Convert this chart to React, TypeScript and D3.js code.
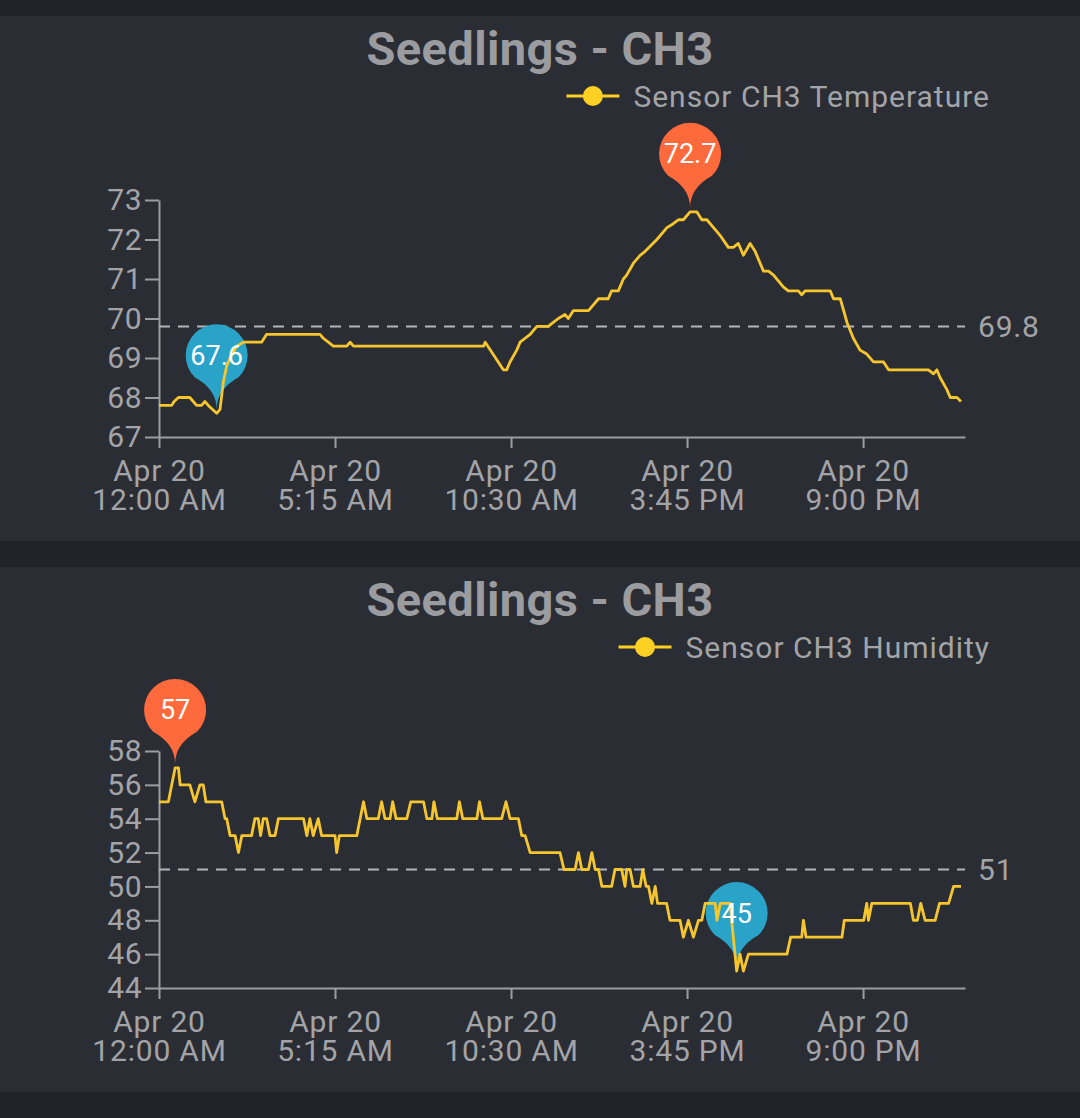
import { useRef, useEffect } from 'react';
import * as d3 from 'd3';

const W = 1080, H = 1118;
const title = 'Seedlings - CH3';

// x ticks, hours after midnight Apr 20
const tickHours = [0, 5.25, 10.5, 15.75, 21];

// temperature readings: hours after midnight / °F
const tempHours = [0, 0.38, 0.45, 0.58, 0.92, 1.12, 1.27, 1.37, 1.47, 1.72, 1.82, 1.92, 2.02, 2.12, 2.32, 2.52, 3.06, 3.21, 4.80, 4.90,
  5.05, 5.20, 5.60, 5.70, 5.80, 9.68, 9.73, 10.27, 10.37, 10.47, 10.67, 10.77, 10.92, 11.07, 11.27, 11.61, 11.76, 11.91, 12.11, 12.21,
  12.36, 12.81, 13.11, 13.40, 13.50, 13.70, 13.85, 13.95, 14.15, 14.35, 14.50, 14.85, 15.15, 15.34, 15.49, 15.64, 15.84, 16.04, 16.19, 16.34,
  16.54, 16.74, 16.98, 17.13, 17.28, 17.43, 17.63, 17.78, 18.03, 18.18, 18.33, 18.62, 18.77, 19.07, 19.17, 19.27, 20.02, 20.12, 20.32, 20.52,
  20.71, 20.91, 21.11, 21.31, 21.61, 21.76, 22.95, 23.10, 23.20, 23.30, 23.50, 23.60, 23.80, 23.92];
const tempValues = [67.8, 67.8, 67.9, 68.0, 68.0, 67.8, 67.8, 67.9, 67.8, 67.6, 67.7, 68.4, 68.8, 69.0, 69.3, 69.4, 69.4, 69.6, 69.6, 69.5,
  69.4, 69.3, 69.3, 69.4, 69.3, 69.3, 69.4, 68.7, 68.7, 68.9, 69.2, 69.4, 69.5, 69.6, 69.8, 69.8, 69.9, 70.0, 70.1, 70.0,
  70.2, 70.2, 70.5, 70.5, 70.7, 70.7, 71.0, 71.1, 71.4, 71.6, 71.7, 72.0, 72.3, 72.4, 72.5, 72.5, 72.7, 72.7, 72.5, 72.5,
  72.3, 72.1, 71.8, 71.8, 71.9, 71.6, 71.9, 71.7, 71.2, 71.2, 71.1, 70.8, 70.7, 70.7, 70.6, 70.7, 70.7, 70.5, 70.5, 69.9,
  69.5, 69.2, 69.1, 68.9, 68.9, 68.7, 68.7, 68.6, 68.7, 68.5, 68.2, 68.0, 68.0, 67.9];
const tempTicks = [67, 68, 69, 70, 71, 72, 73];
const tempAvg = 69.8;

// humidity readings: hours after midnight / %
const humHours = [0, 0.28, 0.48, 0.58, 0.63, 0.92, 1.07, 1.22, 1.32, 1.40, 1.87, 1.97, 2.02, 2.12, 2.27, 2.37, 2.47, 2.76, 2.86, 2.96,
  3.03, 3.11, 3.21, 3.31, 3.46, 3.56, 4.31, 4.41, 4.50, 4.60, 4.75, 4.85, 5.25, 5.30, 5.38, 5.90, 6.00, 6.10, 6.20, 6.54,
  6.64, 6.74, 6.89, 6.97, 7.07, 7.39, 7.51, 7.89, 7.99, 8.14, 8.20, 8.30, 8.88, 8.96, 9.06, 9.48, 9.56, 9.66, 10.22, 10.35,
  10.47, 10.72, 10.82, 10.92, 11.07, 11.96, 12.08, 12.41, 12.51, 12.61, 12.81, 12.91, 13.01, 13.11, 13.21, 13.50, 13.60, 13.80, 13.90, 13.95,
  14.05, 14.15, 14.35, 14.43, 14.53, 14.60, 14.70, 14.80, 14.87, 15.14, 15.24, 15.54, 15.64, 15.79, 15.94, 16.09, 16.19, 16.29, 16.59, 16.64,
  16.74, 17.03, 17.23, 17.33, 17.43, 17.58, 18.73, 18.84, 19.17, 19.22, 19.30, 20.37, 20.44, 21.02, 21.11, 21.16, 21.26, 22.41, 22.50, 22.62,
  22.72, 22.85, 23.15, 23.28, 23.55, 23.70, 23.92];
const humValues = [55, 55, 57, 57, 56, 56, 55, 56, 56, 55, 55, 54, 54, 53, 53, 52, 53, 53, 54, 54,
  53, 54, 54, 53, 53, 54, 54, 53, 54, 53, 54, 53, 53, 52, 53, 53, 54, 55, 54, 54,
  55, 54, 54, 55, 54, 54, 55, 55, 54, 54, 55, 54, 54, 55, 54, 54, 55, 54, 54, 55,
  54, 54, 53, 53, 52, 52, 51, 51, 52, 51, 51, 52, 51, 51, 50, 50, 51, 51, 50, 51,
  51, 50, 50, 51, 50, 50, 49, 50, 49, 49, 48, 48, 47, 48, 47, 48, 48, 49, 49, 48,
  49, 49, 45, 46, 45, 46, 46, 47, 47, 48, 47, 47, 48, 48, 49, 48, 49, 49, 48, 48,
  49, 48, 48, 49, 49, 50, 50];
const humTicks = [44, 46, 48, 50, 52, 54, 56, 58];
const humAvg = 51;

const panels = [
  { top: 16, label: 'Sensor CH3 Temperature', hours: tempHours, values: tempValues, ticks: tempTicks, avg: tempAvg, fmt: '.1f' },
  { top: 567, label: 'Sensor CH3 Humidity', hours: humHours, values: humValues, ticks: humTicks, avg: humAvg, fmt: 'd' },
];

const font = 'Roboto, sans-serif';
const axisColor = '#9c9da1';
const textColor = '#a3a4a8';
const lineColor = '#f6c62c';
const base = new Date(2023, 3, 20);
const toDate = (h: number) => new Date(base.getTime() + h * 3600e3);

function pinPath(cx: number, cy: number, r: number, tip: number) {
  const a = r * Math.SQRT1_2;
  return `M${cx},${cy + tip} Q${cx},${cy + tip - 20} ${cx - a},${cy + a} A${r},${r} 0 1 1 ${cx + a},${cy + a} Q${cx},${cy + tip - 20} ${cx},${cy + tip} Z`;
}

export default function App() {
  const svgRef = useRef<SVGSVGElement>(null);

  useEffect(() => {
    const svg = d3.select(svgRef.current);
    svg.selectAll('*').remove();
    svg.append('rect').attr('width', W).attr('height', H).attr('fill', '#212328');

    const x = d3.scaleTime().domain([toDate(0), toDate(24.04)]).range([159, 965]);

    panels.forEach((p) => {
      const g = svg.append('g').attr('transform', `translate(0,${p.top})`).attr('font-family', font);
      g.append('rect').attr('width', W).attr('height', 525).attr('fill', '#2b2d34');

      g.append('text').attr('x', 540).attr('y', 49).attr('text-anchor', 'middle')
        .attr('font-size', 47).attr('font-weight', 700).attr('letter-spacing', 0.4)
        .attr('fill', '#9b9ca0').text(title);

      // legend
      const lt = g.append('text').attr('x', 990).attr('y', 80).attr('dy', '0.35em').attr('text-anchor', 'end')
        .attr('font-size', 30).attr('fill', textColor).attr('letter-spacing', 1).text(p.label);
      const tw = (lt.node() as SVGTextElement).getComputedTextLength();
      const lx = 990 - tw - 14;
      g.append('line').attr('x1', lx - 53).attr('x2', lx).attr('y1', 80).attr('y2', 80)
        .attr('stroke', '#fdd023').attr('stroke-width', 3);
      g.append('circle').attr('cx', lx - 26.5).attr('cy', 80).attr('r', 10).attr('fill', '#fdd023');

      const y = d3.scaleLinear().domain([p.ticks[0], p.ticks[p.ticks.length - 1]]).range([421, 184]);

      const ya = g.append('g').attr('transform', 'translate(159,0)')
        .call(d3.axisLeft(y).tickValues(p.ticks).tickFormat(d3.format('d')).tickSize(14).tickSizeOuter(0).tickPadding(3));
      ya.attr('font-family', font).attr('font-size', 30);
      ya.selectAll('path, line').attr('stroke', axisColor).attr('stroke-width', 2);
      ya.selectAll('text').attr('fill', textColor).attr('letter-spacing', 0.5);

      const xa = g.append('g').attr('transform', 'translate(0,421)')
        .call(d3.axisBottom(x).tickValues(tickHours.map(toDate)).tickSize(11).tickSizeOuter(0).tickFormat(() => ''));
      xa.selectAll('path, line').attr('stroke', axisColor).attr('stroke-width', 2);
      xa.selectAll('.tick text').remove();
      const tk = xa.selectAll('.tick');
      tk.append('text').attr('y', 44).attr('fill', textColor).attr('font-family', font).attr('font-size', 30)
        .attr('letter-spacing', 0.8).attr('text-anchor', 'middle').text((d: any) => d3.timeFormat('%b %-d')(d));
      tk.append('text').attr('y', 73).attr('fill', textColor).attr('font-family', font).attr('font-size', 30)
        .attr('letter-spacing', 0.8).attr('text-anchor', 'middle').text((d: any) => d3.timeFormat('%-I:%M %p')(d));

      // average line
      g.append('line').attr('x1', 159).attr('x2', 965).attr('y1', y(p.avg)).attr('y2', y(p.avg))
        .attr('stroke', '#b4b5b8').attr('stroke-width', 2).attr('stroke-dasharray', '11,8');
      g.append('text').attr('x', 978).attr('y', y(p.avg)).attr('dy', '0.35em').attr('letter-spacing', 0.8)
        .attr('font-size', 30).attr('fill', textColor).text(d3.format(p.fmt)(p.avg));

      // max / min pins
      const pins = [
        { i: d3.maxIndex(p.values), color: '#fe6a3c' },
        { i: d3.minIndex(p.values), color: '#2aa3c8' },
      ].map((m) => {
        const cx = x(toDate(p.hours[m.i]));
        const cy = y(p.values[m.i]) - 4 - 54;
        g.append('path').attr('d', pinPath(cx, cy, 31, 54)).attr('fill', m.color);
        return { ...m, cx, cy };
      });

      const line = d3.line<number>()
        .x((_, i) => x(toDate(p.hours[i])))
        .y((v) => y(v));
      g.append('path').datum(p.values).attr('d', line).attr('fill', 'none')
        .attr('stroke', lineColor).attr('stroke-width', 2.8).attr('stroke-linejoin', 'round');

      pins.forEach((m) => {
        g.append('text').attr('x', m.cx).attr('y', m.cy).attr('dy', '0.35em').attr('text-anchor', 'middle')
          .attr('font-size', 27).attr('fill', '#ffffff').text(d3.format(p.fmt)(p.values[m.i]));
      });
    });
  }, []);

  return (
    <svg ref={svgRef} width={W} height={H} style={{ position: 'absolute', left: 0, top: 0, display: 'block' }} />
  );
}
